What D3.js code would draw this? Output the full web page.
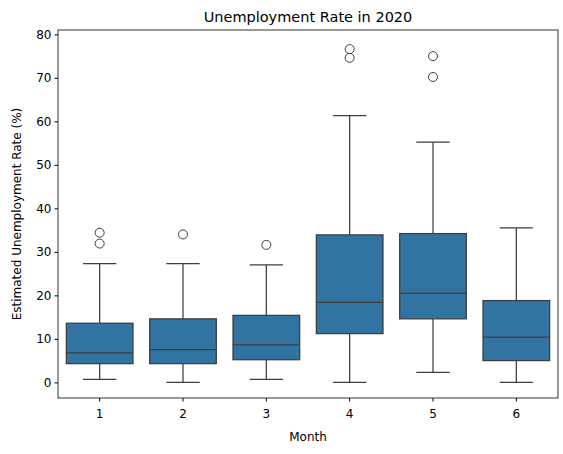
<!DOCTYPE html>
<html><head><meta charset="utf-8">
<script src="https://cdn.jsdelivr.net/npm/d3@7"></script>
<style>body{margin:0;background:#fff}text{font-family:"DejaVu Sans",sans-serif}</style>
</head><body><svg id="c" width="563" height="454"></svg>
<script>
// box summaries
var months = ["1", "2", "3", "4", "5", "6"];
var lows = [0.7, 0, 0.7, 0, 2.3, 0];
var q1s = [4.3, 4.3, 5.2, 11.2, 14.6, 5.0];
var medians = [6.8, 7.5, 8.6, 18.4, 20.5, 10.4];
var q3s = [13.6, 14.6, 15.4, 33.9, 34.2, 18.8];
var highs = [27.3, 27.3, 27.0, 61.3, 55.2, 35.5];
var outliers = [[31.9, 34.4], [34.0], [31.6], [74.6, 76.6], [70.2, 75.0], []];
var yTicks = [0, 10, 20, 30, 40, 50, 60, 70, 80];

var svg = d3.select("#c"),
    m = {l: 58, r: 5, t: 30, b: 56},
    W = 563, H = 454;
var x = d3.scaleBand().domain(months).range([m.l, W - m.r]).paddingInner(0).paddingOuter(0),
    y = d3.scaleLinear().domain([-3.6, 81]).range([H - m.b, m.t]);
var line = "#3d3d3d", fill = "#3274a1", bw = x.bandwidth() * 0.8;

var g = svg.append("g").selectAll("g").data(months).enter().append("g")
    .attr("transform", function (d) { return "translate(" + (x(d) + x.bandwidth() / 2) + ",0)"; });
g.append("line").attr("y1", function (d, i) { return y(lows[i]); }).attr("y2", function (d, i) { return y(q1s[i]); }).attr("stroke", line).attr("stroke-width", 1.25);
g.append("line").attr("y1", function (d, i) { return y(q3s[i]); }).attr("y2", function (d, i) { return y(highs[i]); }).attr("stroke", line).attr("stroke-width", 1.25);
g.append("line").attr("x1", -bw / 4).attr("x2", bw / 4).attr("y1", function (d, i) { return y(lows[i]); }).attr("y2", function (d, i) { return y(lows[i]); }).attr("stroke", line).attr("stroke-width", 1.25);
g.append("line").attr("x1", -bw / 4).attr("x2", bw / 4).attr("y1", function (d, i) { return y(highs[i]); }).attr("y2", function (d, i) { return y(highs[i]); }).attr("stroke", line).attr("stroke-width", 1.25);
g.append("rect").attr("x", -bw / 2).attr("width", bw)
    .attr("y", function (d, i) { return y(q3s[i]); })
    .attr("height", function (d, i) { return y(q1s[i]) - y(q3s[i]); })
    .attr("fill", fill).attr("stroke", line).attr("stroke-width", 1.25);
g.append("line").attr("x1", -bw / 2).attr("x2", bw / 2).attr("y1", function (d, i) { return y(medians[i]); }).attr("y2", function (d, i) { return y(medians[i]); }).attr("stroke", line).attr("stroke-width", 1.25);
g.selectAll("circle").data(function (d, i) { return outliers[i]; }).enter().append("circle")
    .attr("r", 4.5).attr("cy", function (v) { return y(v); })
    .attr("fill", "none").attr("stroke", line).attr("stroke-width", 1);

var xa = svg.append("g").attr("transform", "translate(0," + (H - m.b) + ")").call(d3.axisBottom(x).tickSizeOuter(0).tickSize(3.5));
var ya = svg.append("g").attr("transform", "translate(" + m.l + ",0)").call(d3.axisLeft(y).tickValues(yTicks).tickSizeOuter(0).tickSize(3.5));
[xa, ya].forEach(function (a) { a.select(".domain").remove(); a.selectAll("text").attr("font-size", 12).attr("fill", "#000"); a.selectAll("line").attr("stroke", "#000"); });
xa.selectAll("text").attr("dy", "1.1em");
svg.append("rect").attr("x", m.l).attr("y", m.t).attr("width", W - m.r - m.l).attr("height", H - m.b - m.t)
    .attr("fill", "none").attr("stroke", "#000").attr("stroke-width", 0.8);

svg.append("text").attr("x", (m.l + W - m.r) / 2).attr("y", 22).attr("text-anchor", "middle").attr("font-size", 14.5).text("Unemployment Rate in 2020");
svg.append("text").attr("x", (m.l + W - m.r) / 2).attr("y", 441).attr("text-anchor", "middle").attr("font-size", 12).text("Month");
svg.append("text").attr("transform", "translate(21," + ((m.t + H - m.b) / 2) + ") rotate(-90)").attr("text-anchor", "middle").attr("font-size", 12).text("Estimated Unemployment Rate (%)");
</script></body></html>
